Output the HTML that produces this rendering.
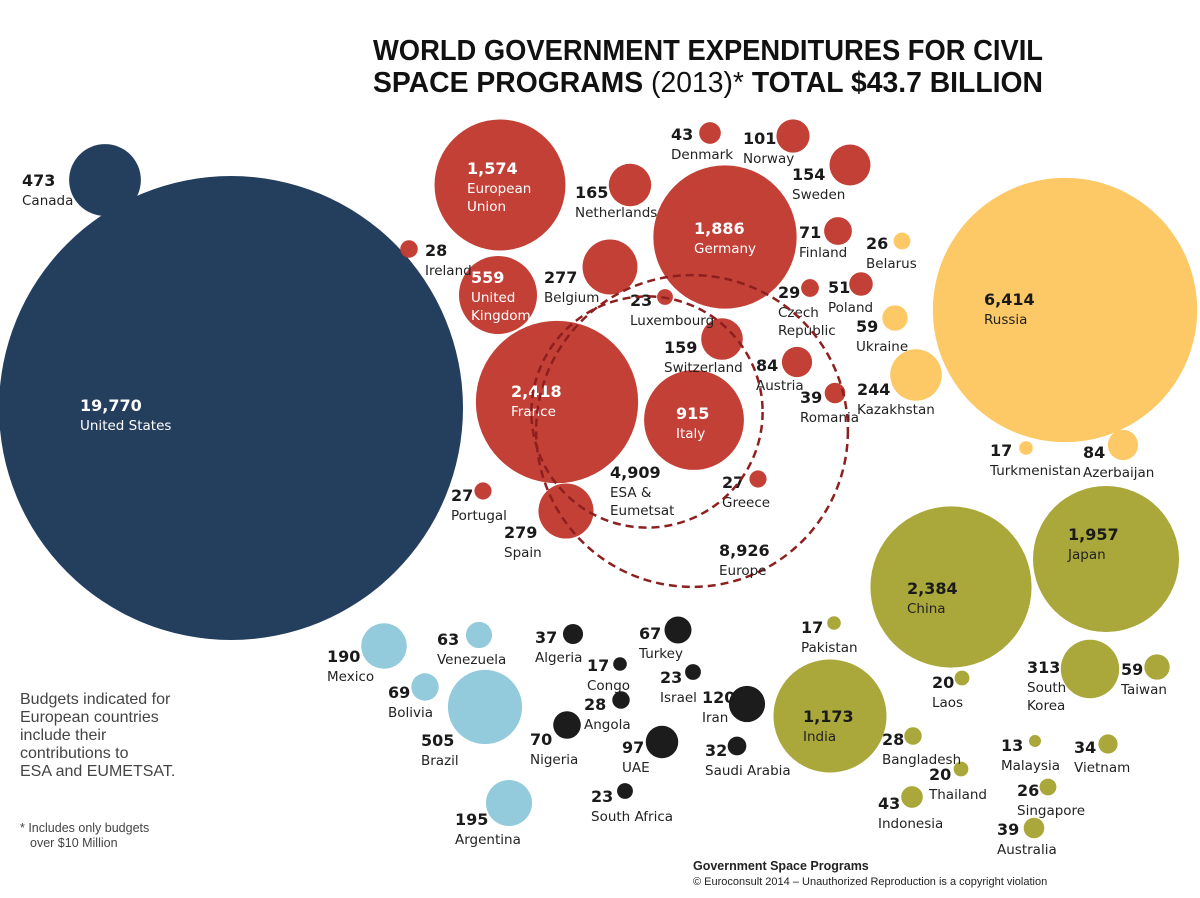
<!DOCTYPE html>
<html><head><meta charset="utf-8">
<style>
html,body{margin:0;padding:0;background:#fff;}
svg{display:block;font-family:"DejaVu Sans","Liberation Sans",sans-serif;}
.v{font-weight:bold;font-size:16px;fill:#1a1a1a;}
.n{font-size:13.5px;fill:#222;}
.w{fill:#fff;}
</style></head>
<body>
<svg id="chart" width="1200" height="898" viewBox="0 0 1200 898" xmlns="http://www.w3.org/2000/svg">
<g font-family="'Liberation Sans',sans-serif" font-weight="bold" font-size="29" fill="#111">
<text x="373" y="60" textLength="670" lengthAdjust="spacingAndGlyphs">WORLD GOVERNMENT EXPENDITURES FOR CIVIL</text>
<text x="373" y="92" textLength="670" lengthAdjust="spacingAndGlyphs">SPACE PROGRAMS <tspan font-weight="normal">(2013)*</tspan> TOTAL $43.7 BILLION</text>
</g>
<g id="groups"></g>
<g id="bubbles"></g>
<g id="labels"></g>
<g fill="#444" font-family="'Liberation Sans',sans-serif">
<text font-size="16"><tspan x="20" y="704">Budgets indicated for</tspan><tspan x="20" y="722">European countries</tspan><tspan x="20" y="740">include their</tspan><tspan x="20" y="758">contributions to</tspan><tspan x="20" y="776">ESA and EUMETSAT.</tspan></text>
<text font-size="12.5"><tspan x="20" y="832">* Includes only budgets</tspan><tspan x="30" y="847">over $10 Million</tspan></text>
</g>
<g font-family="'Liberation Sans',sans-serif" fill="#222">
<text x="693" y="870" font-size="12.5" font-weight="bold">Government Space Programs</text>
<text x="693" y="885" font-size="11">© Euroconsult 2014 – Unauthorized Reproduction is a copyright violation</text>
</g>
</svg>
<script>
const names=["Canada","United States","European\nUnion","Netherlands","Denmark","Norway","Sweden","Germany","Finland","Ireland","Belgium","United\nKingdom","Luxembourg","Czech\nRepublic","Poland","Switzerland","Austria","Romania","France","Italy","Greece","Portugal","Spain","Belarus","Ukraine","Kazakhstan","Russia","Turkmenistan","Azerbaijan","China","Japan","Pakistan","India","Laos","South\nKorea","Taiwan","Bangladesh","Thailand","Indonesia","Malaysia","Vietnam","Singapore","Australia","Mexico","Venezuela","Bolivia","Brazil","Argentina","Algeria","Turkey","Congo","Israel","Angola","Iran","Nigeria","UAE","Saudi Arabia","South Africa"];
const values=[473,19770,1574,165,43,101,154,1886,71,28,277,559,23,29,51,159,84,39,2418,915,27,27,279,26,59,244,6414,17,84,2384,1957,17,1173,20,313,59,28,20,43,13,34,26,39,190,63,69,505,195,37,67,17,23,28,120,70,97,32,23];
const regions=["na","na","eu","eu","eu","eu","eu","eu","eu","eu","eu","eu","eu","eu","eu","eu","eu","eu","eu","eu","eu","eu","eu","cis","cis","cis","cis","cis","cis","as","as","as","as","as","as","as","as","as","as","as","as","as","as","la","la","la","la","la","me","me","me","me","me","me","me","me","me","me"];
const groupNames=["ESA &\nEumetsat","Europe"];
const groupValues=[4909,8926];
// layout (pixel positions, not data)
const cxs=[105,231,500,630,710,793,850,725,838,409,610,498,665,810,861,722,797,835,557,694,758,483,566,902,895,916,1065,1026,1123,951,1106,834,830,962,1090,1157,913,961,912,1035,1108,1048,1034,384,479,425,485,509,573,678,620,693,621,747,567,662,737,625];
const cys=[180,408,185,185,133,136,165,237,231,249,267,295,297,288,284,339,362,393,402,420,479,491,511,241,318,375,310,448,445,587,559,623,716,678,669,667,736,769,797,741,744,787,828,646,635,687,707,803,634,630,664,672,700,704,725,742,746,791];
const lxs=[22,80,467,575,671,743,792,694,799,425,544,471,630,778,828,664,756,800,511,676,722,451,504,866,856,857,984,990,1083,907,1068,801,803,932,1027,1121,882,929,878,1001,1074,1017,997,327,437,388,421,455,535,639,587,660,584,702,530,622,705,591];
const lys=[186,411,174,198,140,144,180,234,238,256,283,283,306,298,293,353,371,403,397,419,488,501,538,249,332,395,305,456,458,594,540,633,722,688,673,675,745,780,809,751,753,796,835,662,645,698,746,825,643,639,671,683,710,703,745,753,756,802];
const gcx=[647,692], gcy=[412,431], glx=[610,719], gly=[478,556];
const whiteLabels=new Set(["United States","European\nUnion","Germany","United\nKingdom","France","Italy"]);
const colors={na:"#243e5e",eu:"#c13a31",cis:"#fdc866",as:"#aaa73b",la:"#93cbdc",me:"#1c1c1c"};
const K=1.65;
const rScale=v=>K*Math.sqrt(v);
const fmt=v=>v.toLocaleString("en-US");
const NS="http://www.w3.org/2000/svg";
const gB=document.getElementById("bubbles"),gL=document.getElementById("labels"),gG=document.getElementById("groups");
function label(parent,x,y,v,nm,white){
  const t=document.createElementNS(NS,"text");
  
  
  const a=document.createElementNS(NS,"tspan");
  a.setAttribute("x",x);a.setAttribute("y",y);a.setAttribute("class","v"+(white?" w":""));a.textContent=fmt(v);t.appendChild(a);
  nm.split("\n").forEach((s,i)=>{const b=document.createElementNS(NS,"tspan");b.setAttribute("x",x);b.setAttribute("y",y+19+i*18);b.setAttribute("class","n"+(white?" w":""));b.textContent=s;t.appendChild(b);});
  parent.appendChild(t);
}
values.forEach((v,i)=>{
  const c=document.createElementNS(NS,"circle");
  
  
  c.setAttribute("cx",cxs[i]);c.setAttribute("cy",cys[i]);c.setAttribute("r",rScale(v));
  c.setAttribute("fill",colors[regions[i]]);
  if(regions[i]=="eu")c.setAttribute("opacity","0.97");
  gB.appendChild(c);
  label(gL,lxs[i],lys[i],v,names[i],whiteLabels.has(names[i]));
});
groupValues.forEach((v,i)=>{
  const c=document.createElementNS(NS,"circle");
  
  
  c.setAttribute("cx",gcx[i]);c.setAttribute("cy",gcy[i]);c.setAttribute("r",rScale(v));
  c.setAttribute("fill","none");c.setAttribute("stroke","#8e1f1f");c.setAttribute("stroke-width","2.5");c.setAttribute("stroke-dasharray","8,5");
  gL.appendChild(c);
  label(gL,glx[i],gly[i],v,groupNames[i],false);
});
</script>
</body></html>
